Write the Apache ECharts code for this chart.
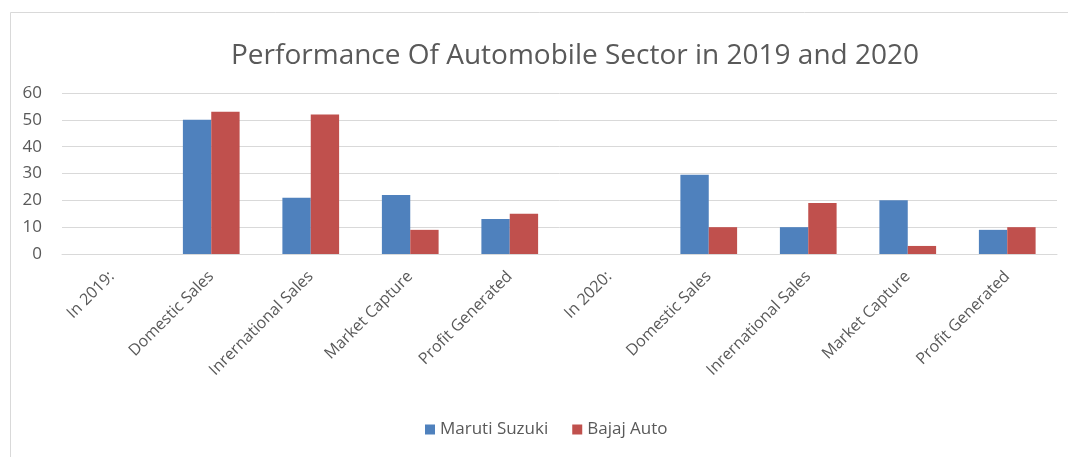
<!DOCTYPE html>
<html>
<head>
<meta charset="utf-8">
<script src="https://cdn.jsdelivr.net/npm/echarts@6/dist/echarts.min.js"></script>
<style>
html,body{margin:0;padding:0;background:#fff;}
#c{width:1068px;height:457px;}
</style>
</head>
<body>
<div id="c"></div>
<script>
const categories = ["In 2019:", "Domestic Sales", "Inrernational Sales", "Market Capture", "Profit Generated",
                    "In 2020:", "Domestic Sales", "Inrernational Sales", "Market Capture", "Profit Generated"];
const seriesNames = ["Maruti Suzuki", "Bajaj Auto"];
const marutiSuzuki = [null, 50, 21, 22, 13, null, 29.5, 10, 20, 9];
const bajajAuto = [null, 53, 52, 9, 15, null, 10, 19, 3, 10];
const yTicks = [0, 10, 20, 30, 40, 50, 60];

const chart = echarts.init(document.getElementById('c'));
const font = '"Open Sans", "Noto Sans", sans-serif';
chart.setOption({
  animation: false,
  backgroundColor: '#fff',
  graphic: [{
    type: 'rect', left: 8, top: 10, silent: true,
    shape: {width: 1070, height: 460},
    style: {fill: 'none', stroke: '#d9d9d9', lineWidth: 1}
  }],
  title: {
    text: 'Performance Of Automobile Sector in 2019 and 2020',
    left: 570, top: 37, textAlign: 'center',
    textStyle: {fontFamily: font, fontSize: 28, fontWeight: 'normal', color: '#595959'}
  },
  legend: {
    data: seriesNames, left: 420, top: 416, itemWidth: 10, itemHeight: 10, itemGap: 24,
    icon: 'rect',
    textStyle: {fontFamily: font, fontSize: 17, color: '#595959'}
  },
  grid: {left: 62, right: 11, top: 93, bottom: 203},
  xAxis: {
    type: 'category', data: categories,
    axisLine: {lineStyle: {color: '#d9d9d9'}},
    axisTick: {show: false},
    axisLabel: {rotate: 45, interval: 0, fontFamily: font, fontSize: 16, color: '#595959', margin: 20}
  },
  yAxis: {
    type: 'value', min: yTicks[0], max: yTicks[yTicks.length - 1], interval: 10,
    axisLine: {show: false}, axisTick: {show: false},
    splitLine: {lineStyle: {color: '#d9d9d9'}},
    axisLabel: {fontFamily: font, fontSize: 17, color: '#595959', margin: 20}
  },
  series: [
    {name: seriesNames[0], type: 'bar', data: marutiSuzuki, barGap: '0%', barCategoryGap: '43%',
     itemStyle: {color: '#4F81BD'}},
    {name: seriesNames[1], type: 'bar', data: bajajAuto, barGap: '0%', barCategoryGap: '43%',
     itemStyle: {color: '#C0504D'}}
  ]
});
</script>
</body>
</html>
